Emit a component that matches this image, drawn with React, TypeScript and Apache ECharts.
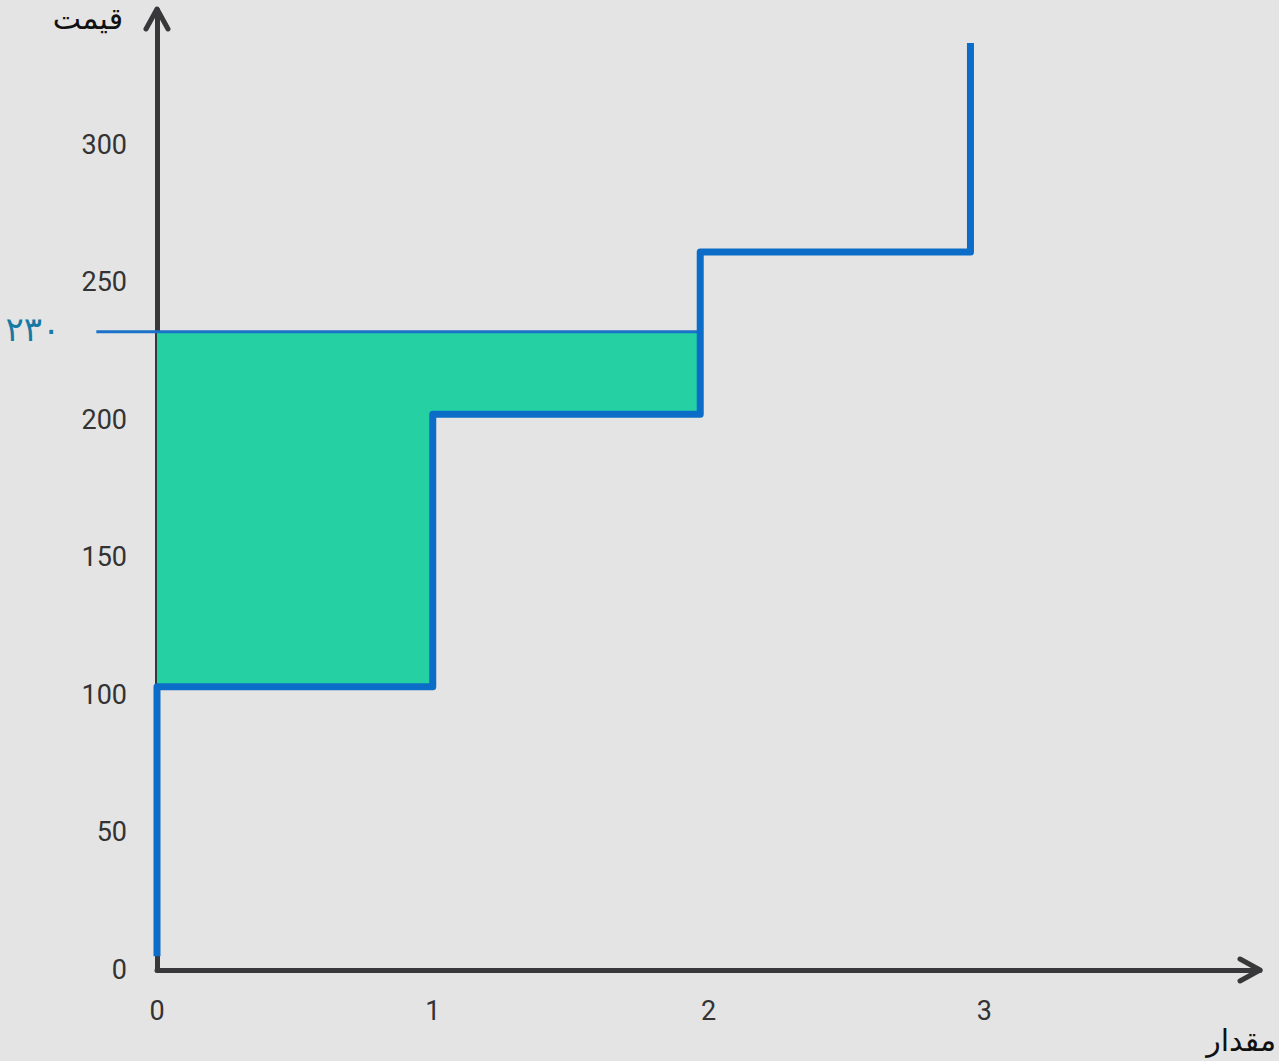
import React, { useEffect, useRef } from 'react';
import * as echarts from 'echarts';

// Axis ticks
const quantityTicks = [0, 1, 2, 3];
const priceTicks = [0, 50, 100, 150, 200, 250, 300];
const quantityAxisMax = 4;
const priceAxisMax = 349;

// Supply step curve (corner points)
const supplyQuantity = [0, 0, 1, 1, 1.97, 1.97, 2.95, 2.95];
const supplyPrice = [5, 103, 103, 202, 202, 261, 261, 337];

// Price line
const priceLineLevel = 232;
const priceLineLabel = '۲۳۰';
const priceLineStart = -0.22;
const priceLineEnd = 1.965;

// Shaded surplus region (polygon corners)
const surplusQuantity = [0, 1.965, 1.965, 1, 1, 0];
const surplusPrice = [232, 232, 202, 202, 103, 103];

const yAxisName = 'قیمت';
const xAxisName = 'مقدار';

const AXIS_COLOR = '#38383a';
const TICK_FONT = 'Roboto, "Liberation Sans", sans-serif';

export default function App() {
  const ref = useRef<HTMLDivElement>(null);

  useEffect(() => {
    document.body.style.margin = '0';
    if (!ref.current) return;
    const chart = echarts.init(ref.current, null, { renderer: 'svg' });

    const supplyData = supplyQuantity.map((q, i) => [q, supplyPrice[i]]);
    const surplusData = surplusQuantity.map((q, i) => [q, surplusPrice[i]]);

    chart.setOption({
      animation: false,
      backgroundColor: '#e4e4e4',
      grid: { left: 157, top: 10, right: 1279 - 1260, bottom: 1061 - 970, containLabel: false },
      xAxis: {
        type: 'value',
        min: 0,
        max: quantityAxisMax,
        interval: 1,
        splitLine: { show: false },
        axisTick: { show: false },
        axisLine: { show: true, lineStyle: { color: AXIS_COLOR, width: 5 } },
        axisLabel: {
          margin: 27,
          color: '#333',
          fontFamily: TICK_FONT,
          fontSize: 27,
          formatter: (v: number) => (quantityTicks.includes(v) ? String(v) : ''),
        },
      },
      yAxis: {
        type: 'value',
        min: 0,
        max: priceAxisMax,
        interval: 50,
        splitLine: { show: false },
        axisTick: { show: false },
        axisLine: { show: true, lineStyle: { color: AXIS_COLOR, width: 5 } },
        axisLabel: {
          margin: 30,
          color: '#333',
          fontFamily: TICK_FONT,
          fontSize: 27,
          showMaxLabel: false,
          formatter: (v: number) => (priceTicks.includes(v) ? String(v) : ''),
        },
      },
      series: [
        {
          type: 'custom',
          z: 1,
          clip: false,
          data: [0],
          renderItem: (params: any, api: any) => {
            const pts = surplusData.map((p) => api.coord(p));
            return {
              type: 'polygon',
              shape: { points: pts },
              style: { fill: '#25d0a2', stroke: 'none' },
            };
          },
        },
        {
          type: 'custom',
          z: 3,
          clip: false,
          data: [0],
          renderItem: (params: any, api: any) => {
            const a = api.coord([priceLineStart, priceLineLevel]);
            const b = api.coord([priceLineEnd, priceLineLevel]);
            return {
              type: 'group',
              children: [
                {
                  type: 'line',
                  shape: { x1: a[0], y1: a[1], x2: b[0], y2: b[1] },
                  style: { stroke: '#1a72c9', lineWidth: 3 },
                },
                {
                  type: 'text',
                  x: a[0] - 36,
                  y: a[1] - 3,
                  style: {
                    text: priceLineLabel,
                    fill: '#1679a3',
                    fontSize: 34,
                    fontFamily: '"DejaVu Sans", sans-serif',
                    align: 'right',
                    verticalAlign: 'middle',
                  },
                },
              ],
            };
          },
        },
        {
          type: 'line',
          z: 4,
          clip: false,
          symbol: 'none',
          data: supplyData,
          lineStyle: { color: '#0b6dc7', width: 7, join: 'round', cap: 'butt' },
        },
      ],
    });

    const yTop = chart.convertToPixel({ yAxisIndex: 0 }, priceAxisMax) as number;
    const y0 = chart.convertToPixel({ yAxisIndex: 0 }, 0) as number;
    const x0 = chart.convertToPixel({ xAxisIndex: 0 }, 0) as number;
    const xRight = chart.convertToPixel({ xAxisIndex: 0 }, quantityAxisMax) as number;

    chart.setOption({
      graphic: [
        {
          type: 'polyline',
          z: 10,
          shape: { points: [[x0 - 11, yTop + 19], [x0, yTop - 1], [x0 + 11, yTop + 19]] },
          style: { stroke: AXIS_COLOR, lineWidth: 5, fill: 'none', lineCap: 'round', lineJoin: 'round' },
        },
        {
          type: 'polyline',
          z: 10,
          shape: { points: [[xRight - 20, y0 - 11], [xRight, y0], [xRight - 20, y0 + 11]] },
          style: { stroke: AXIS_COLOR, lineWidth: 5, fill: 'none', lineCap: 'round', lineJoin: 'round' },
        },
        {
          type: 'text',
          z: 10,
          x: 123,
          y: 18,
          style: {
            text: yAxisName,
            fill: '#111',
            fontSize: 30,
            fontFamily: '"DejaVu Sans", sans-serif',
            align: 'right',
            verticalAlign: 'middle',
          },
        },
        {
          type: 'text',
          z: 10,
          x: 1276,
          y: 1040,
          style: {
            text: xAxisName,
            fill: '#111',
            fontSize: 30,
            fontFamily: '"DejaVu Sans", sans-serif',
            align: 'right',
            verticalAlign: 'middle',
          },
        },
      ],
    });

    return () => chart.dispose();
  }, []);

  return <div ref={ref} style={{ width: 1279, height: 1061 }} />;
}
